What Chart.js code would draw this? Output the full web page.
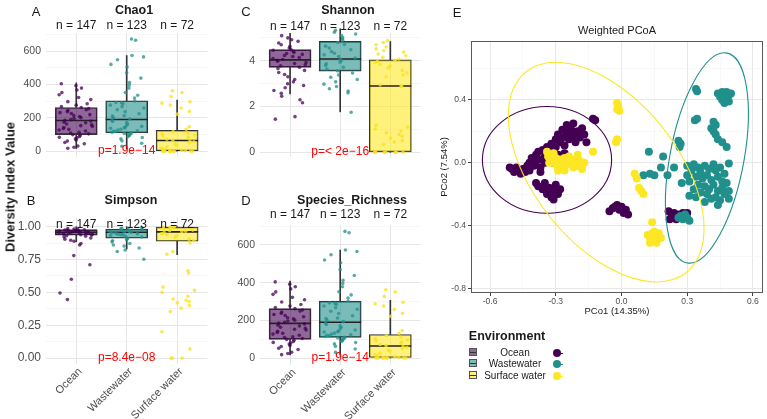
<!DOCTYPE html>
<html>
<head>
<meta charset="utf-8">
<script src="https://cdn.jsdelivr.net/npm/chart.js@4.4.1/dist/chart.umd.min.js"></script>
<style>
  body { margin: 0; background: #fff; font-family: "Liberation Sans", Arial, sans-serif; }
  #wrap { position: relative; width: 767px; height: 419px; overflow: hidden; }
  canvas { position: absolute; }
  .t { position: absolute; transform: translate(-50%, -50%); white-space: nowrap; color: #1a1a1a; }
  .letter { font-size: 13px; }
  .ttl { font-size: 12.5px; font-weight: bold; }
  .key { position: absolute; width: 6px; height: 6px; border: 1px solid #555; }
  .key::after { content: ""; position: absolute; left: 0; right: 0; top: 3px; height: 1px; background: #333; }
  .dot { position: absolute; width: 8px; height: 8px; border-radius: 50%; }
  .stub { position: absolute; width: 6px; height: 1.5px; }
</style>
</head>
<body>
<div id="wrap">
  <canvas id="pA" width="230" height="180" style="left:0;top:0"></canvas>
  <canvas id="pB" width="230" height="224" style="left:0;top:195px"></canvas>
  <canvas id="pC" width="233" height="180" style="left:210px;top:0"></canvas>
  <canvas id="pD" width="233" height="224" style="left:210px;top:195px"></canvas>
  <canvas id="pE" width="335" height="320" style="left:432px;top:0"></canvas>

  <div class="t letter" style="left:36px;top:11px">A</div>
  <div class="t ttl" style="left:134px;top:10px">Chao1</div>
  <div class="t letter" style="left:31px;top:200px">B</div>
  <div class="t ttl" style="left:131px;top:200px">Simpson</div>
  <div class="t letter" style="left:246px;top:11px">C</div>
  <div class="t ttl" style="left:348px;top:10px">Shannon</div>
  <div class="t letter" style="left:246px;top:200px">D</div>
  <div class="t ttl" style="left:352px;top:200px">Species_Richness</div>
  <div class="t letter" style="left:457px;top:12px">E</div>
  <div class="t" style="left:617px;top:30px;font-size:11px">Weighted PCoA</div>
  <div class="t" style="left:10px;top:187px;font-size:13px;font-weight:bold;transform:translate(-50%,-50%) rotate(-90deg)">Diversity Index Value</div>

  <div class="t" style="left:507px;top:336px;font-size:12.5px;font-weight:bold">Environment</div>
  <div class="key" style="left:469px;top:348px;background:rgba(68,1,84,0.6)"></div>
  <div class="key" style="left:469px;top:359px;background:rgba(33,144,140,0.6)"></div>
  <div class="key" style="left:469px;top:371px;background:rgba(253,231,37,0.6)"></div>
  <div class="t" style="left:515px;top:352px;font-size:10px">Ocean</div>
  <div class="t" style="left:515px;top:363px;font-size:10px">Wastewater</div>
  <div class="t" style="left:515px;top:375px;font-size:10px">Surface water</div>
  <div class="dot" style="left:553px;top:349px;background:#440154"></div>
  <div class="stub" style="left:557px;top:352.5px;background:#440154"></div>
  <div class="dot" style="left:553px;top:360px;background:#21908C"></div>
  <div class="stub" style="left:557px;top:363.5px;background:#21908C"></div>
  <div class="dot" style="left:553px;top:372px;background:#FDE725"></div>
  <div class="stub" style="left:557px;top:375.5px;background:#FDE725"></div>
</div>

<script>
Chart.defaults.font.family = '"Liberation Sans", Arial, sans-serif';

const groups = ['Ocean', 'Wastewater', 'Surface water'];
const groupN = [147, 123, 72];
const groupColors = ['#440154', '#21908C', '#FDE725'];
const boxFills = ['rgba(68,1,84,0.6)', 'rgba(33,144,140,0.6)', 'rgba(253,231,37,0.6)'];
const pointFills = ['rgba(68,1,84,0.75)', 'rgba(33,144,140,0.75)', 'rgba(250,228,30,0.8)'];

// box stats per group: [lower whisker, q1, median, q3, upper whisker]
const richBox = [[16, 99, 184, 262, 409], [15, 110, 190, 302, 573], [0, 0, 64, 125, 306]];
const chao1Box = [[16, 99, 184, 262, 409], [15, 110, 190, 302, 573], [0, 0, 64, 125, 306]];
const simBox = [[0.885, 0.935, 0.958, 0.978, 1.0], [0.83, 0.912, 0.957, 0.981, 1.0], [0.787, 0.889, 0.96, 0.997, 1.0]];
const shanBox = [[2.55, 3.71, 4.04, 4.49, 5.2], [1.77, 3.55, 4.08, 4.85, 5.4], [0, 0, 2.9, 4.04, 4.84]];

// jittered sample values
const richOcean = [18, 24, 31, 45, 52, 61, 67, 74, 80, 83, 88, 95, 99, 104, 109, 113, 121, 127, 131, 136, 142, 149, 153, 158, 163, 170, 174, 181, 185, 189, 196, 201, 208, 214, 219, 226, 231, 237, 244, 249, 255, 262, 268, 276, 284, 297, 309, 322, 338, 351, 367, 378, 392, 404];
const richWaste = [48, 62, 75, 82, 88, 93, 97, 101, 106, 110, 114, 118, 123, 127, 132, 138, 143, 149, 156, 163, 171, 178, 186, 193, 201, 212, 224, 236, 248, 259, 267, 276, 284, 292, 301, 318, 335, 352, 378, 396, 412, 438, 470, 505, 520, 548, 565, 573, 665, 672, 742, 140, 120, 105, 290, 210, 30];
const richSurf = [0, 0, 0, 0, 0, 0, 0, 0, 0, 0, 3, 6, 11, 19, 27, 36, 43, 50, 57, 61, 66, 72, 79, 86, 91, 97, 103, 110, 118, 131, 146, 222, 238, 259, 276, 288, 296, 327, 351, 362];
const chao1Ocean = richOcean;
const chao1Waste = richWaste;
const chao1Surf = richSurf;

const simOcean = [0.985, 0.982, 0.979, 0.977, 0.975, 0.973, 0.971, 0.969, 0.968, 0.966, 0.964, 0.962, 0.961, 0.959, 0.957, 0.955, 0.953, 0.951, 0.948, 0.946, 0.944, 0.942, 0.939, 0.936, 0.932, 0.928, 0.921, 0.914, 0.905, 0.897, 0.889, 0.872, 0.861, 0.78, 0.71, 0.60, 0.495, 0.445, 0.97, 0.96, 0.95];
const simWaste = [0.992, 0.987, 0.983, 0.979, 0.976, 0.972, 0.969, 0.966, 0.962, 0.958, 0.955, 0.951, 0.947, 0.943, 0.938, 0.933, 0.927, 0.921, 0.915, 0.908, 0.901, 0.893, 0.884, 0.872, 0.861, 0.852, 0.838, 0.823, 0.811, 0.752, 0.97, 0.96, 0.94];
const simSurf = [1.0, 0.998, 0.995, 0.992, 0.988, 0.985, 0.982, 0.978, 0.974, 0.97, 0.966, 0.961, 0.955, 0.948, 0.94, 0.93, 0.918, 0.905, 0.893, 0.875, 0.81, 0.79, 0.665, 0.648, 0.54, 0.515, 0.5, 0.47, 0.45, 0.44, 0.43, 0.42, 0.40, 0.38, 0.355, 0.20, 0.07, 0.0, 0.0, 0.0];

const shanOcean = [5.1, 5.0, 4.92, 4.85, 4.78, 4.7, 4.63, 4.56, 4.5, 4.46, 4.41, 4.37, 4.32, 4.28, 4.23, 4.19, 4.14, 4.1, 4.06, 4.02, 3.98, 3.93, 3.88, 3.83, 3.78, 3.72, 3.66, 3.58, 3.49, 3.4, 3.3, 3.18, 3.08, 3.0, 2.92, 2.82, 2.7, 2.58, 2.45, 2.3, 2.17, 1.56, 1.45];
const shanWaste = [5.42, 5.33, 5.25, 5.17, 5.1, 5.02, 4.95, 4.88, 4.8, 4.72, 4.64, 4.56, 4.48, 4.4, 4.33, 4.26, 4.19, 4.12, 4.06, 4.0, 3.94, 3.87, 3.8, 3.72, 3.64, 3.56, 3.47, 3.38, 3.28, 3.18, 3.08, 2.98, 2.88, 2.78, 2.68, 2.6, 1.75];
const shanSurf = [4.88, 4.8, 4.7, 4.6, 4.52, 4.45, 4.38, 4.3, 4.22, 4.15, 4.08, 4.02, 3.97, 3.92, 3.85, 3.77, 3.68, 3.58, 3.48, 3.38, 3.3, 2.95, 2.9, 2.87, 1.18, 1.1, 1.02, 0.93, 0.85, 0.78, 0.7, 0.62, 0.52, 0.45, 0.35, 0.0, 0.0, 0.0, 0.0, 0.0, 0.0, 0.0, 0.0];

// y tick breaks
const richTicks = [0, 200, 400, 600];
const richMinor = [100, 300, 500, 700];
const simTicks = [0, 0.25, 0.5, 0.75, 1];
const simMinor = [0.125, 0.375, 0.625, 0.875];
const shanTicks = [0, 2, 4];
const shanMinor = [1, 3, 5];

// PCoA coordinates [PCo1, PCo2]
const pcoaOcean = [
  [-0.50, -0.04], [-0.49, -0.06], [-0.48, -0.03], [-0.47, -0.05], [-0.46, -0.07], [-0.45, -0.04], [-0.44, -0.06], [-0.43, -0.02],
  [-0.42, 0.00], [-0.42, -0.05], [-0.41, 0.03], [-0.40, -0.02], [-0.39, 0.05], [-0.39, 0.01], [-0.38, 0.07], [-0.37, 0.02],
  [-0.37, -0.03], [-0.36, 0.08], [-0.35, 0.04], [-0.35, 0.00], [-0.34, 0.10], [-0.33, 0.06], [-0.33, 0.02], [-0.32, 0.12],
  [-0.31, 0.08], [-0.30, 0.15], [-0.30, 0.10], [-0.29, 0.18], [-0.29, 0.05], [-0.28, 0.13], [-0.27, 0.21], [-0.27, 0.16],
  [-0.26, 0.11], [-0.25, 0.19], [-0.25, 0.24], [-0.24, 0.15], [-0.23, 0.21], [-0.22, 0.17], [-0.22, 0.25], [-0.21, 0.13],
  [-0.20, 0.20], [-0.19, 0.16], [-0.18, 0.22], [-0.17, 0.18], [-0.16, 0.13], [-0.13, 0.28], [-0.12, 0.27], [-0.37, -0.06],
  [-0.31, 0.00], [-0.26, 0.06], [-0.51, -0.03],
  [-0.39, -0.13], [-0.38, -0.15], [-0.36, -0.17], [-0.35, -0.13], [-0.34, -0.20], [-0.33, -0.16], [-0.32, -0.22],
  [-0.31, -0.18], [-0.30, -0.14], [-0.29, -0.20], [-0.28, -0.17], [-0.31, -0.235],
  [-0.055, -0.31], [-0.04, -0.29], [-0.03, -0.28], [-0.02, -0.27], [-0.01, -0.30], [0.00, -0.28], [0.01, -0.32], [0.02, -0.30], [0.03, -0.33],
  [0.215, -0.31], [0.22, -0.36], [0.23, -0.34], [0.24, -0.32], [0.25, -0.36], [0.26, -0.33], [0.28, -0.32], [0.29, -0.35], [0.30, -0.32]
];
const pcoaWaste = [
  [0.44, 0.44], [0.45, 0.42], [0.46, 0.45], [0.46, 0.40], [0.47, 0.43], [0.47, 0.38], [0.48, 0.45], [0.48, 0.41],
  [0.49, 0.43], [0.50, 0.44], [0.49, 0.39],
  [0.34, 0.47], [0.345, 0.455], [0.335, 0.27], [0.345, 0.28],
  [0.42, 0.26], [0.43, 0.24], [0.41, 0.22], [0.42, 0.20], [0.43, 0.18], [0.44, 0.15], [0.46, 0.13], [0.48, 0.10],
  [0.26, 0.14], [0.27, 0.12], [0.265, 0.10], [0.49, -0.005],
  [0.125, 0.07], [0.19, 0.04], [0.18, -0.03], [0.24, -0.03], [0.10, -0.08], [0.15, -0.08], [0.21, -0.08], [0.13, -0.07],
  [0.30, -0.02], [0.32, -0.05], [0.33, -0.01], [0.35, -0.03], [0.36, -0.06], [0.38, -0.02], [0.40, -0.04], [0.42, -0.01],
  [0.43, -0.05], [0.45, -0.03], [0.34, -0.09], [0.37, -0.10], [0.39, -0.08], [0.41, -0.11], [0.44, -0.09], [0.46, -0.12],
  [0.35, -0.14], [0.38, -0.15], [0.40, -0.17], [0.42, -0.14], [0.44, -0.18], [0.46, -0.16], [0.47, -0.20], [0.48, -0.13],
  [0.43, -0.22], [0.45, -0.24], [0.41, -0.23], [0.39, -0.20], [0.36, -0.19], [0.33, -0.17], [0.31, -0.12], [0.30, -0.08],
  [0.34, -0.22], [0.38, -0.25], [0.44, -0.27], [0.49, -0.18], [0.47, -0.07], [0.49, -0.23], [0.275, -0.13], [0.31, -0.21],
  [0.27, -0.34], [0.28, -0.36], [0.30, -0.35], [0.31, -0.37], [0.29, -0.33], [0.26, -0.35]
];
const pcoaSurf = [
  [-0.34, 0.07], [-0.335, 0.04], [-0.32, 0.02], [-0.31, 0.06], [-0.30, 0.03], [-0.30, -0.01], [-0.29, -0.05], [-0.28, 0.02],
  [-0.27, -0.02], [-0.26, 0.03], [-0.25, -0.01], [-0.24, 0.04], [-0.23, 0.01], [-0.22, -0.03], [-0.21, 0.02], [-0.20, 0.05],
  [-0.20, -0.02], [-0.19, 0.01], [-0.18, -0.04], [-0.17, 0.00], [-0.26, -0.05], [-0.33, 0.00], [-0.13, 0.07],
  [-0.02, 0.38], [-0.015, 0.36], [-0.02, 0.34], [-0.01, 0.33], [-0.02, 0.15], [-0.025, 0.13],
  [0.06, -0.07], [0.07, -0.10], [0.08, -0.16], [0.09, -0.18], [0.10, -0.20], [0.14, -0.38],
  [0.12, -0.46], [0.13, -0.48], [0.14, -0.45], [0.15, -0.50], [0.16, -0.47], [0.17, -0.45], [0.15, -0.44], [0.13, -0.51],
  [0.18, -0.48], [0.14, -0.49], [0.16, -0.51]
];
// ellipse: [centre x, centre y, semi-major, semi-minor, angle deg]
const ellOcean = [-0.34, 0.018, 0.295, 0.34, 0];
const ellWaste = [0.39, 0.03, 0.675, 0.17, 82.7];
const ellSurf = [-0.07, -0.06, 0.749, 0.358, -66];

const pcoaXMajor = [-0.6, -0.3, 0, 0.3, 0.6];
const pcoaXMinor = [-0.45, -0.15, 0.15, 0.45];
const pcoaYMajor = [0.4, 0, -0.4, -0.8];
const pcoaYMinor = [0.6, 0.2, -0.2, -0.6];

// horizontal spread of the jittered points (position only, value untouched)
function jitter(k, g) {
  const h = Math.abs(Math.sin((k + 1) * 12.9898 + (g + 1) * 78.233)) * 43758.5453;
  return (h % 1 - 0.5) * 0.7;
}

const annot = {
  id: 'annot',
  afterDatasetsDraw(chart, args, o) {
    const { ctx } = chart;
    const x = chart.scales.x, y = chart.scales.y;
    ctx.save();
    ctx.font = '12px "Liberation Sans", Arial, sans-serif';
    ctx.textAlign = 'center';
    ctx.textBaseline = 'middle';
    ctx.fillStyle = '#1a1a1a';
    groupN.forEach((n, i) => ctx.fillText('n = ' + n, x.getPixelForValue(i + 1), y.getPixelForValue(o.nAt)));
    ctx.fillStyle = '#ff0000';
    ctx.fillText(o.p, x.getPixelForValue(2), y.getPixelForValue(0) - 0.5);
    ctx.restore();
  }
};

function boxPanel(id, cfg) {
  const box = cfg.box;
  const datasets = [
    { type: 'bar', data: box.map((b, i) => ({ x: i + 1, y: [b[0], b[1]] })), backgroundColor: '#333', barThickness: 1, grouped: false, order: 5, clip: false },
    { type: 'bar', data: box.map((b, i) => ({ x: i + 1, y: [b[3], b[4]] })), backgroundColor: '#333', barThickness: 1, grouped: false, order: 5, clip: false },
    { type: 'bar', data: box.map((b, i) => ({ x: i + 1, y: [b[1], b[3]] })), backgroundColor: boxFills, borderColor: '#333', borderWidth: 1, borderSkipped: false, barThickness: 42, grouped: false, order: 4 },
    { type: 'scatter', data: box.map((b, i) => ({ x: i + 1, y: b[2] })), pointStyle: 'line', pointRadius: 21, borderColor: '#222', borderWidth: 1.6, order: 3 }
  ];
  cfg.points.forEach((arr, g) => datasets.push({
    type: 'scatter',
    data: arr.map((v, k) => ({ x: g + 1 + jitter(k, g), y: v })),
    pointRadius: 1.8, backgroundColor: pointFills[g], borderWidth: 0, order: 1, clip: false
  }));
  const isMajor = v => cfg.ticks.includes(v);
  return new Chart(document.getElementById(id), {
    type: 'bar',
    data: { datasets },
    options: {
      responsive: false,
      animation: false,
      events: [],
      layout: { padding: cfg.pad },
      plugins: { legend: { display: false }, tooltip: { enabled: false }, annot: { nAt: cfg.nAt, p: cfg.p } },
      scales: {
        x: {
          type: 'linear', min: 0.4, max: 3.6, offset: false,
          afterBuildTicks: s => { s.ticks = [1, 2, 3].map(v => ({ value: v })); },
          afterFit: s => { s.height = cfg.xH; },
          grid: { offset: false, color: '#e6e6e6', drawTicks: false },
          border: { display: false },
          ticks: {
            display: cfg.showX, autoSkip: false, minRotation: 45, maxRotation: 45, padding: 1, labelOffset: 4,
            color: '#4d4d4d', font: { size: 11 },
            callback: v => groups[v - 1]
          }
        },
        y: {
          type: 'linear', min: cfg.min, max: cfg.max,
          afterBuildTicks: s => { s.ticks = cfg.ticks.concat(cfg.minor).map(v => ({ value: v })); },
          afterFit: s => { s.width = cfg.yW; },
          grid: {
            drawTicks: false,
            color: c => isMajor(c.tick.value) ? '#e6e6e6' : '#f0f0f0',
            lineWidth: c => isMajor(c.tick.value) ? 1 : 0.6
          },
          border: { display: false },
          ticks: {
            autoSkip: false, padding: 5, color: '#4d4d4d', font: { size: cfg.tickSize },
            callback: v => isMajor(v) ? v.toFixed(cfg.digits) : ''
          }
        }
      }
    },
    plugins: [annot]
  });
}

boxPanel('pA', { box: chao1Box, points: [chao1Ocean, chao1Waste, chao1Surf], ticks: richTicks, minor: richMinor, digits: 0,
  min: -37, max: 708, nAt: 753, p: 'p=1.9e\u221214', pad: { top: 33, right: 5, bottom: 7, left: 0 }, yW: 46, xH: 0, showX: false, tickSize: 10.5 });
boxPanel('pB', { box: simBox, points: [simOcean, simWaste, simSurf], ticks: simTicks, minor: simMinor, digits: 2,
  min: -0.045, max: 1.069, nAt: 1.012, p: 'p=8.4e\u221208', pad: { top: 12, right: 5, bottom: 0, left: 0 }, yW: 46, xH: 55, showX: true, tickSize: 12 });
boxPanel('pC', { box: shanBox, points: [shanOcean, shanWaste, shanSurf], ticks: shanTicks, minor: shanMinor, digits: 0,
  min: -0.221, max: 5.215, nAt: 5.51, p: 'p=< 2e\u221216', pad: { top: 33, right: 4, bottom: 7, left: 0 }, yW: 50, xH: 0, showX: false, tickSize: 10.5 });
boxPanel('pD', { box: richBox, points: [richOcean, richWaste, richSurf], ticks: richTicks, minor: richMinor, digits: 0,
  min: -37, max: 706, nAt: 759, p: 'p=1.9e\u221214', pad: { top: 30, right: 4, bottom: 0, left: 0 }, yW: 50, xH: 54, showX: true, tickSize: 10.5 });

const ellipses = {
  id: 'ellipses',
  afterDatasetsDraw(chart) {
    const { ctx, chartArea: a } = chart;
    const xs = chart.scales.x, ys = chart.scales.y;
    ctx.save();
    ctx.beginPath();
    ctx.rect(a.left, a.top, a.right - a.left, a.bottom - a.top);
    ctx.clip();
    [ellOcean, ellWaste, ellSurf].forEach((e, g) => {
      const px = xs.getPixelForValue(e[0]), py = ys.getPixelForValue(e[1]);
      const sx = xs.getPixelForValue(e[0] + 1) - px, sy = ys.getPixelForValue(e[1] + 1) - py;
      ctx.save();
      ctx.translate(px, py);
      ctx.scale(sx, sy);
      ctx.rotate(e[4] * Math.PI / 180);
      ctx.beginPath();
      ctx.ellipse(0, 0, e[2], e[3], 0, 0, Math.PI * 2);
      ctx.restore();
      ctx.strokeStyle = groupColors[g];
      ctx.lineWidth = 1.1;
      ctx.stroke();
    });
    ctx.restore();
    ctx.save();
    ctx.strokeStyle = '#5a5a5a';
    ctx.lineWidth = 1;
    ctx.strokeRect(a.left + 0.5, a.top + 0.5, a.right - a.left - 1, a.bottom - a.top - 1);
    ctx.restore();
  }
};

const pcoaSets = [pcoaOcean, pcoaWaste, pcoaSurf];
new Chart(document.getElementById('pE'), {
  type: 'scatter',
  data: {
    datasets: pcoaSets.map((arr, g) => ({
      label: groups[g],
      data: arr.map(p => ({ x: p[0], y: p[1] })),
      backgroundColor: groupColors[g],
      pointRadius: 4,
      borderWidth: 0,
      order: 3 - g
    }))
  },
  options: {
    responsive: false,
    animation: false,
    events: [],
    layout: { padding: { top: 41, right: 4, bottom: 0, left: 0 } },
    plugins: { legend: { display: false }, tooltip: { enabled: false } },
    scales: {
      x: {
        min: -0.687, max: 0.646,
        afterBuildTicks: s => { s.ticks = pcoaXMajor.concat(pcoaXMinor).sort((a, b) => a - b).map(v => ({ value: v })); },
        afterFit: s => { s.height = 27; },
        grid: {
          color: c => pcoaXMajor.includes(c.tick.value) ? '#e8e8e8' : '#f3f3f3',
          lineWidth: c => pcoaXMajor.includes(c.tick.value) ? 1 : 0.6,
          tickColor: c => pcoaXMajor.includes(c.tick.value) ? '#444' : 'rgba(0,0,0,0)',
          tickLength: 3
        },
        border: { display: false },
        ticks: { autoSkip: false, maxRotation: 0, padding: 1, color: '#4d4d4d', font: { size: 8.5 },
          callback: v => pcoaXMajor.includes(v) ? v.toFixed(1) : '' },
        title: { display: true, text: 'PCo1 (14.35%)', color: '#1a1a1a', font: { size: 9.5 }, padding: { top: 0, bottom: 3 } }
      },
      y: {
        min: -0.83, max: 0.775,
        afterBuildTicks: s => { s.ticks = pcoaYMajor.concat(pcoaYMinor).sort((a, b) => a - b).map(v => ({ value: v })); },
        afterFit: s => { s.width = 39; },
        grid: {
          color: c => pcoaYMajor.includes(c.tick.value) ? '#e8e8e8' : '#f3f3f3',
          lineWidth: c => pcoaYMajor.includes(c.tick.value) ? 1 : 0.6,
          tickColor: c => pcoaYMajor.includes(c.tick.value) ? '#444' : 'rgba(0,0,0,0)',
          tickLength: 3
        },
        border: { display: false },
        ticks: { autoSkip: false, padding: 2, color: '#4d4d4d', font: { size: 8.5 },
          callback: v => pcoaYMajor.includes(v) ? v.toFixed(1) : '' },
        title: { display: true, text: 'PCo2 (7.54%)', color: '#1a1a1a', font: { size: 9.5 }, padding: { top: 7, bottom: 0 } }
      }
    }
  },
  plugins: [ellipses]
});
</script>
</body>
</html>
